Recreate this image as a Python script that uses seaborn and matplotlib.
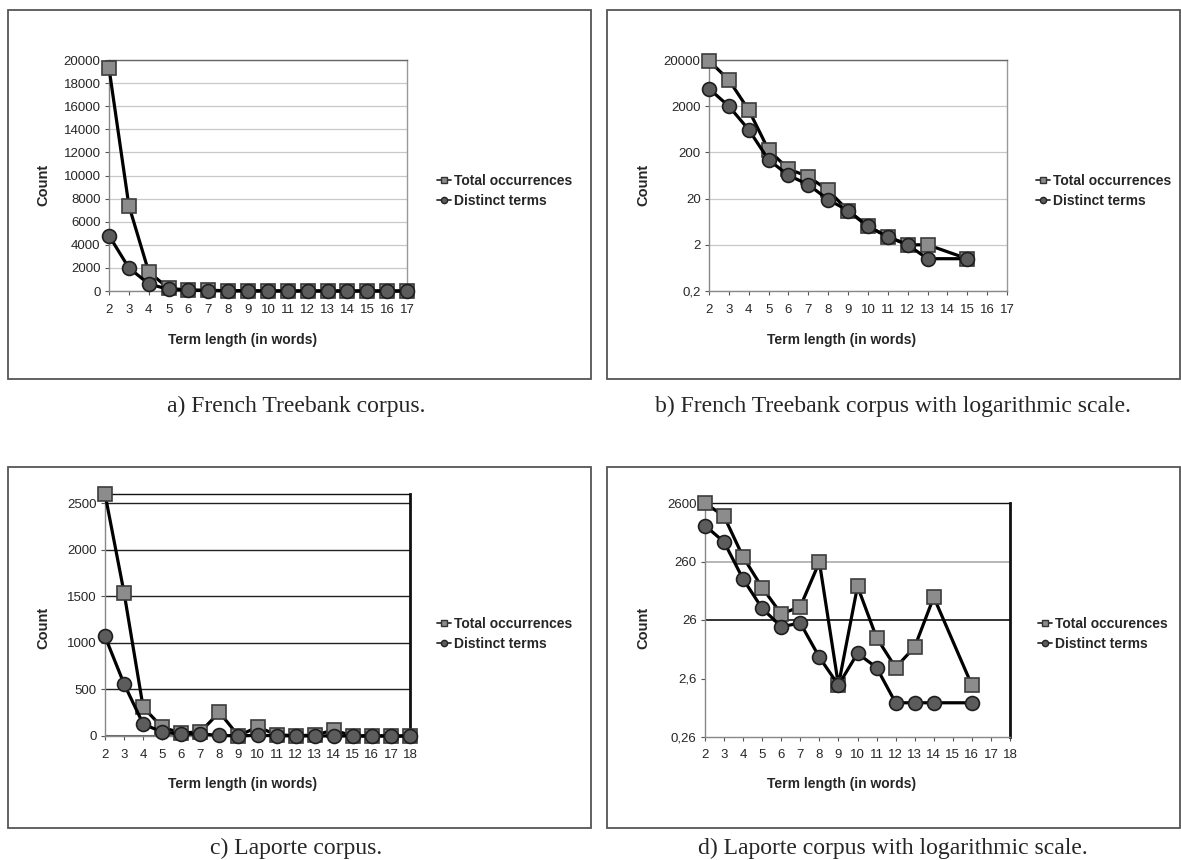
import numpy as np
import pandas as pd
import matplotlib
matplotlib.use('Agg')
import matplotlib.pyplot as plt
from matplotlib.lines import Line2D
from matplotlib.patches import Rectangle
import seaborn as sns

# French Treebank corpus (term length 2..17)
fr_length = list(range(2, 18))
fr_total = [19300, 7400, 1650, 225, 87, 60, 30, 11, 5, 3, 2, 2, 0, 1, 0, 0]
fr_distinct = [4800, 2000, 620, 138, 64, 40, 19, 11, 5, 3, 2, 1, 0, 1, 0, 0]

# Laporte corpus (term length 2..18)
lap_length = list(range(2, 19))
lap_total = [2600, 1540, 310, 93, 33, 44, 255, 2, 98, 13, 4, 9, 64, 0, 2, 0, 0]
lap_distinct = [1070, 560, 130, 41, 20, 23, 6, 2, 7, 4, 1, 1, 1, 0, 1, 0, 0]

captions = ['a) French Treebank corpus.',
            'b) French Treebank corpus with logarithmic scale.',
            'c) Laporte corpus.',
            'd) Laporte corpus with logarithmic scale.']

sns.set_theme(style='white')
plt.rcParams['font.family'] = ['Liberation Sans', 'DejaVu Sans']

W, H = 1181, 860
fig = plt.figure(figsize=(W / 100, H / 100), dpi=100)


def box(x0, y0, x1, y1):
    return [x0 / W, 1 - y1 / H, (x1 - x0) / W, (y1 - y0) / H]


def draw(ax, x, total, distinct, log):
    df = pd.DataFrame({'x': x, 'total': total, 'distinct': distinct})
    dt = df[df.total > 0] if log else df
    dd = df[df.distinct > 0] if log else df
    sns.lineplot(data=dt, x='x', y='total', ax=ax, color='black', lw=2.3,
                 marker='s', markersize=10, markerfacecolor='#8c8c8c',
                 markeredgecolor='#3c3c3c', markeredgewidth=1.2, clip_on=False, zorder=3)
    sns.lineplot(data=dd, x='x', y='distinct', ax=ax, color='black', lw=2.3,
                 marker='o', markersize=10, markerfacecolor='#5c5c5c',
                 markeredgecolor='#1e1e1e', markeredgewidth=1.2, clip_on=False, zorder=4)
    ax.set_xlabel('')
    ax.set_ylabel('')
    ax.set_xticks(x)
    ax.tick_params(axis='both', labelsize=9.5, length=3, width=0.8, color='#555',
                   direction='out')
    ax.tick_params(axis='x', bottom=True, pad=6)
    ax.tick_params(axis='y', left=True, pad=3)


def legend(x, y, label_total):
    handles = [Line2D([], [], color='#333', lw=1.3, marker='s', markersize=4.5,
                      markerfacecolor='#8c8c8c', markeredgecolor='#333'),
               Line2D([], [], color='#333', lw=1.3, marker='o', markersize=4.5,
                      markerfacecolor='#5c5c5c', markeredgecolor='#222')]
    fig.legend(handles, [label_total, 'Distinct terms'], loc='upper left',
               bbox_to_anchor=(x / W, 1 - y / H), frameon=False,
               prop={'weight': 'bold', 'size': 10}, handlelength=1.0,
               handletextpad=0.2, labelspacing=0.45, borderpad=0, borderaxespad=0)


# panel frames
for (x0, y0, x1, y1) in [(8, 10, 591, 379), (607, 10, 1180, 379),
                         (8, 467, 591, 828), (607, 467, 1180, 828)]:
    fig.patches.append(Rectangle((x0 / W, 1 - y1 / H), (x1 - x0) / W, (y1 - y0) / H,
                                 transform=fig.transFigure, fill=False,
                                 edgecolor='#555', lw=1.3))

# a) linear French Treebank
ax_a = fig.add_axes(box(109, 60, 407, 291))
draw(ax_a, fr_length, fr_total, fr_distinct, log=False)
ax_a.set_xlim(2, 17)
ax_a.set_ylim(0, 20000)
ax_a.set_yticks(range(0, 20001, 2000))
ax_a.grid(axis='y', color='#c8c8c8', lw=0.9)

# b) log French Treebank
ax_b = fig.add_axes(box(709, 60, 1007, 291))
draw(ax_b, fr_length, fr_total, fr_distinct, log=True)
ax_b.set_yscale('log')
ax_b.set_xlim(2, 17)
ax_b.set_ylim(0.2, 20000)
ax_b.set_yticks([0.2, 2, 20, 200, 2000, 20000],
                ['0,2', '2', '20', '200', '2000', '20000'])
ax_b.minorticks_off()
ax_b.grid(axis='y', color='#c8c8c8', lw=0.9)

# c) linear Laporte
ax_c = fig.add_axes(box(105, 494, 410, 736))
draw(ax_c, lap_length, lap_total, lap_distinct, log=False)
ax_c.set_xlim(2, 18)
ax_c.set_ylim(0, 2600)
ax_c.set_yticks(range(0, 2501, 500))
ax_c.grid(axis='y', color='#222', lw=1.0)
ax_c.axhline(0, color='#666', lw=2.2, zorder=2)

# d) log Laporte
ax_d = fig.add_axes(box(705, 503, 1010, 737))
draw(ax_d, lap_length, lap_total, lap_distinct, log=True)
ax_d.set_yscale('log')
ax_d.set_xlim(2, 18)
ax_d.set_ylim(0.26, 2600)
ax_d.set_yticks([0.26, 2.6, 26, 260, 2600], ['0,26', '2,6', '26', '260', '2600'])
ax_d.minorticks_off()
ax_d.axhline(26, color='#111', lw=1.2, zorder=1)
ax_d.axhline(260, color='#aaa', lw=1.2, zorder=1)

for ax, strong in [(ax_a, False), (ax_b, False), (ax_c, True), (ax_d, True)]:
    ax.set_axisbelow(True)
    for side in ['left', 'bottom']:
        ax.spines[side].set_color('#888')
        ax.spines[side].set_linewidth(1.0)
    ax.spines['top'].set_color('#111' if strong else '#666')
    ax.spines['top'].set_linewidth(1.0)
    ax.spines['right'].set_color('#111' if strong else '#999')
    ax.spines['right'].set_linewidth(2.0 if strong else 1.0)

# axis titles
for cx, cy in [(43, 185), (643, 185), (43, 628), (643, 628)]:
    fig.text(cx / W, 1 - cy / H, 'Count', rotation=90, ha='center', va='center',
             fontsize=10.5, fontweight='bold')
for cx, cy in [(243, 340), (842, 340), (243, 784), (842, 784)]:
    fig.text(cx / W, 1 - cy / H, 'Term length (in words)', ha='center', va='center',
             fontsize=10, fontweight='bold')

legend(437, 174, 'Total occurrences')
legend(1036, 174, 'Total occurrences')
legend(437, 617, 'Total occurrences')
legend(1038, 617, 'Total occurences')

# captions
for (cx, cy), text in zip([(296, 406), (893, 406), (296, 848), (893, 848)], captions):
    fig.text(cx / W, 1 - cy / H, text, ha='center', va='center', fontsize=17,
             family=['Liberation Serif', 'DejaVu Serif'])

fig.savefig('out.png', dpi=100)
